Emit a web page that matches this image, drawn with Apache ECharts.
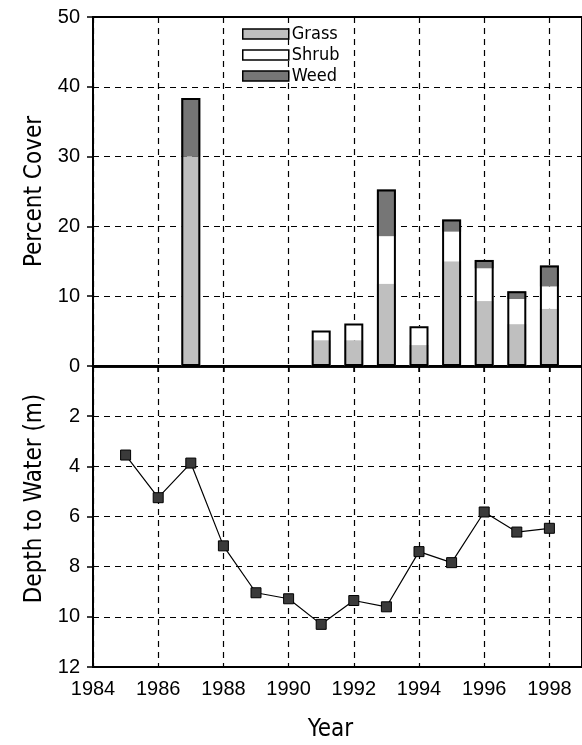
<!DOCTYPE html>
<html>
<head>
<meta charset="utf-8">
<script src="https://cdn.jsdelivr.net/npm/echarts@6/dist/echarts.min.js"></script>
<style>
html,body{margin:0;padding:0;background:#fff;}
#chart{width:582px;height:745px;}
</style>
</head>
<body>
<div id="chart"></div>
<script>
// ---- data ----
const barYears = [1987, 1991, 1992, 1993, 1994, 1995, 1996, 1997, 1998];
const grass    = [30,   3.7,  3.7,  11.8, 3.0,  15.0, 9.3,  6.0,  8.2];
const shrub    = [0,    1.4,  2.4,  6.8,  2.7,  4.25, 4.7,  3.6,  3.2];
const weed     = [8.4,  0,    0,    6.7,  0,    1.75, 1.2,  1.1,  3.0];

const depthYears = [1985, 1986, 1987, 1988, 1989, 1990, 1991, 1992, 1993, 1994, 1995, 1996, 1997, 1998];
const depth      = [3.55, 5.25, 3.87, 7.17, 9.04, 9.28, 10.3, 9.35, 9.6,  7.4,  7.84, 5.82, 6.62, 6.47];

const axisYears  = [1984, 1985, 1986, 1987, 1988, 1989, 1990, 1991, 1992, 1993, 1994, 1995, 1996, 1997, 1998, 1999];
const coverTicks = [0, 10, 20, 30, 40, 50];
const depthTicks = [0, 2, 4, 6, 8, 10, 12];
const yearTicks  = [1984, 1986, 1988, 1990, 1992, 1994, 1996, 1998];

// ---- build ----
const byYear = arr => axisYears.map(y => {
  const i = barYears.indexOf(y);
  return i >= 0 ? arr[i] : '-';
});
const totals = barYears.map((y, i) => grass[i] + shrub[i] + weed[i]);
const pair = (xs, ys) => xs.map((x, i) => [x, ys[i]]);

const narrow = "'Liberation Sans Narrow', 'DejaVu Sans Condensed', sans-serif";
const regular = "'Liberation Sans', Arial, Helvetica, sans-serif";
const dashed = { show: true, lineStyle: { color: '#000', width: 1.2, type: [6, 5] } };

const chart = echarts.init(document.getElementById('chart'), null, { renderer: 'canvas' });

chart.setOption({
  animation: false,
  backgroundColor: '#fff',
  grid: [
    { left: 93, top: 17, width: 495, height: 349, show: true, borderColor: '#000', borderWidth: 2, backgroundColor: 'transparent' },
    { left: 93, top: 366, width: 495, height: 301, show: true, borderColor: '#000', borderWidth: 2, backgroundColor: 'transparent' }
  ],
  legend: {
    orient: 'vertical', left: 237, top: 20, itemWidth: 46, itemHeight: 10, itemGap: 3,
    icon: 'rect',
    textStyle: { fontFamily: narrow, fontSize: 18, color: '#000', padding: [0, 0, 0, -2] },
    data: [
      { name: 'Grass', itemStyle: { borderColor: '#000', borderWidth: 1.5 } },
      { name: 'Shrub', itemStyle: { borderColor: '#000', borderWidth: 1.5 } },
      { name: 'Weed', itemStyle: { borderColor: '#000', borderWidth: 1.5 } }
    ],
    selectedMode: false
  },
  xAxis: [
    {
      gridIndex: 0, type: 'category', data: axisYears.map(String), boundaryGap: false,
      splitLine: Object.assign({ interval: idx => idx % 2 === 0 }, dashed),
      axisLine: { show: true, lineStyle: { color: '#000', width: 2.5 } },
      axisLabel: { show: false },
      axisTick: { show: false }
    },
    {
      gridIndex: 1, type: 'value', min: 1984, max: 1999, interval: 2,
      splitLine: dashed,
      axisLine: { show: true, lineStyle: { color: '#000', width: 2.5 } },
      axisTick: { show: true, length: 6, lineStyle: { color: '#000', width: 1.5 } },
      axisLabel: {
        show: true, margin: 12, color: '#000', fontFamily: regular, fontSize: 20,
        showMaxLabel: false,
        formatter: v => (yearTicks.indexOf(v) >= 0 ? String(v) : '')
      },
      name: 'Year', nameLocation: 'middle', nameGap: 51,
      nameTextStyle: { fontFamily: narrow, fontSize: 24, color: '#000', padding: [0, 14, 0, 0] }
    }
  ],
  yAxis: [
    {
      gridIndex: 0, type: 'value', min: 0, max: 50, interval: 10,
      splitLine: dashed,
      axisLine: { show: true, lineStyle: { color: '#000', width: 2 } },
      axisTick: { show: true, length: 6, lineStyle: { color: '#000', width: 1.5 } },
      axisLabel: {
        color: '#000', fontFamily: regular, fontSize: 20, margin: 13,
        formatter: v => (coverTicks.indexOf(v) >= 0 ? String(v) : '')
      },
      name: 'Percent Cover', nameLocation: 'middle', nameGap: 43,
      nameTextStyle: { fontFamily: narrow, fontSize: 24, color: '#000' }
    },
    {
      gridIndex: 1, type: 'value', min: 0, max: 12, interval: 2, inverse: true,
      splitLine: dashed,
      axisLine: { show: true, lineStyle: { color: '#000', width: 2 } },
      axisTick: { show: true, length: 6, lineStyle: { color: '#000', width: 1.5 } },
      axisLabel: {
        color: '#000', fontFamily: regular, fontSize: 20, margin: 13,
        showMinLabel: false,
        formatter: v => (depthTicks.indexOf(v) >= 0 ? String(v) : '')
      },
      name: 'Depth to Water (m)', nameLocation: 'middle', nameGap: 43,
      nameTextStyle: { fontFamily: narrow, fontSize: 24, color: '#000', padding: [0, 0, 0, 36] }
    }
  ],
  series: [
    {
      name: 'Grass', type: 'bar', stack: 'cover', xAxisIndex: 0, yAxisIndex: 0,
      barWidth: 19, barGap: '-100%',
      itemStyle: { color: '#bfbfbf' },
      data: byYear(grass)
    },
    {
      name: 'Shrub', type: 'bar', stack: 'cover', xAxisIndex: 0, yAxisIndex: 0,
      barWidth: 19, barGap: '-100%',
      itemStyle: { color: '#ffffff' },
      data: byYear(shrub)
    },
    {
      name: 'Weed', type: 'bar', stack: 'cover', xAxisIndex: 0, yAxisIndex: 0,
      barWidth: 19, barGap: '-100%',
      itemStyle: { color: '#767676' },
      data: byYear(weed)
    },
    {
      name: 'Outline', type: 'bar', xAxisIndex: 0, yAxisIndex: 0,
      barWidth: 19, barGap: '-100%', z: 5,
      itemStyle: { color: 'rgba(0,0,0,0)', borderColor: '#000', borderWidth: 2 },
      data: byYear(totals)
    },
    {
      name: 'Depth', type: 'line', xAxisIndex: 1, yAxisIndex: 1,
      symbol: 'rect', symbolSize: 10,
      lineStyle: { color: '#000', width: 1.2 },
      itemStyle: { color: '#3a3a3a', borderColor: '#000', borderWidth: 1 },
      data: pair(depthYears, depth)
    }
  ]
});
</script>
</body>
</html>
